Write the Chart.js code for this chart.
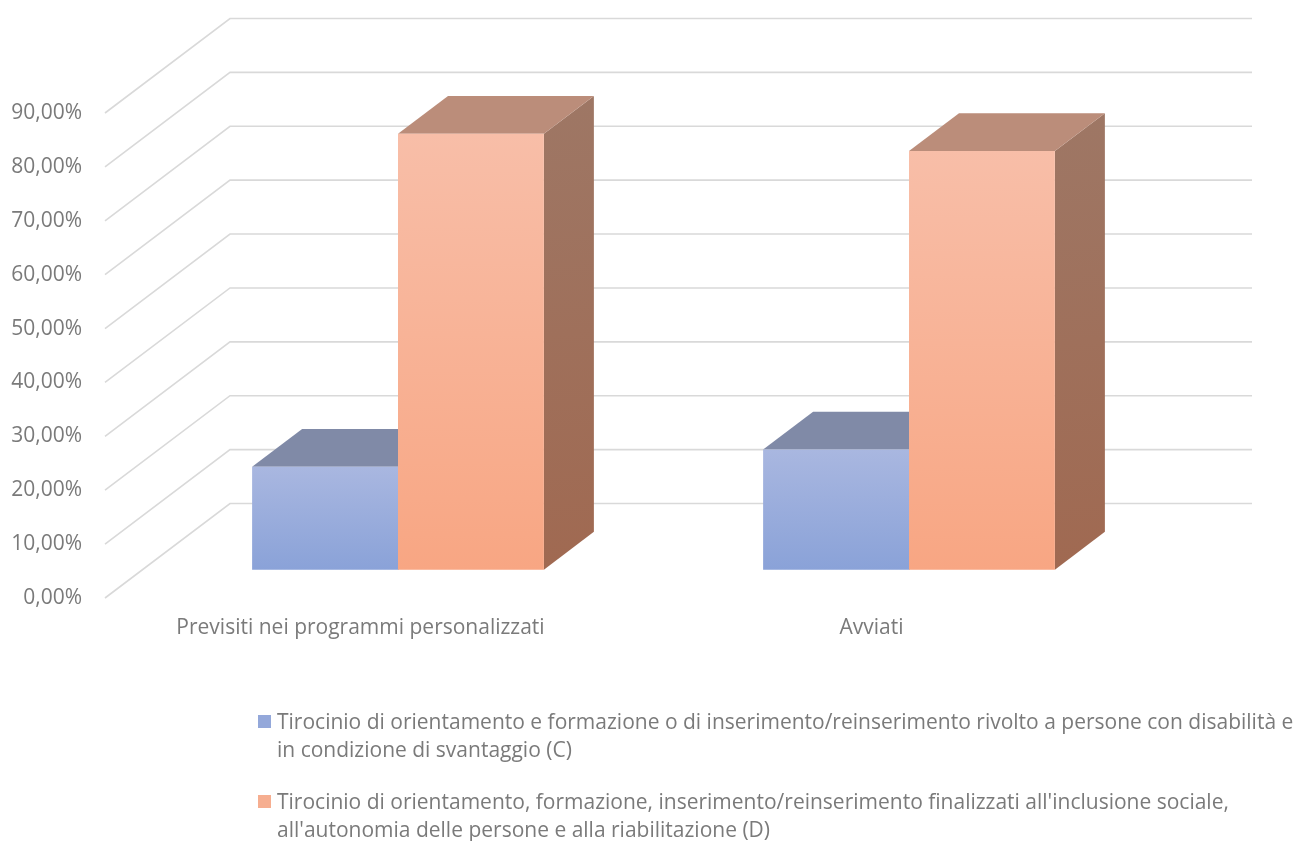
<!DOCTYPE html>
<html>
<head>
<meta charset="utf-8">
<script src="https://cdn.jsdelivr.net/npm/chart.js@4.4.1/dist/chart.umd.min.js"></script>
<style>
  html, body { margin: 0; padding: 0; background: #ffffff; }
  #wrap { width: 1296px; height: 841px; position: relative; }
</style>
</head>
<body>
<div id="wrap"><canvas id="c" width="1296" height="841"></canvas></div>
<script>
// ---------- DATA ----------
const categories = ['Previsiti nei programmi personalizzati', 'Avviati'];
const seriesNames = [
  'Tirocinio di orientamento e formazione o di inserimento/reinserimento rivolto a persone con disabilità e in condizione di svantaggio (C)',
  "Tirocinio di orientamento, formazione, inserimento/reinserimento finalizzati all'inclusione sociale, all'autonomia delle persone e alla riabilitazione (D)"
];
const legendLinesC = [
  'Tirocinio di orientamento e formazione o di inserimento/reinserimento rivolto a persone con disabilità e',
  'in condizione di svantaggio (C)'
];
const legendLinesD = [
  "Tirocinio di orientamento, formazione, inserimento/reinserimento finalizzati all'inclusione sociale,",
  "all'autonomia delle persone e alla riabilitazione (D)"
];
const valuesC = [19.1, 22.3];
const valuesD = [80.9, 77.7];
const yTickValues = [0, 10, 20, 30, 40, 50, 60, 70, 80, 90];

// ---------- STYLE ----------
const FONT = "'Open Sans', 'DejaVu Sans', sans-serif";
const FS = 21;
const TEXT = '#7a7a7a';
const GRID = '#d9d9d9';
const DX = 125, DY = -94.5;          // full depth of the 3D box
const BAR_FRONT = 0.3, BAR_DEPTH = 0.4;
const faceStyles = [
  { frontTop: '#a9b7e0', frontBottom: '#8aa2d8', top: '#808aa7', sideTop: '#6f7b9c', sideBottom: '#64739a', legend: '#94a8da' },
  { frontTop: '#f8bea8', frontBottom: '#f8a683', top: '#bb8d7a', sideTop: '#9e7765', sideBottom: '#a06951', legend: '#f6ae90' }
];

function frontGradient(ctx, idx) {
  const chart = ctx.chart;
  const st = faceStyles[idx];
  const ys = chart.scales && chart.scales.y;
  if (!ys || ctx.type !== 'data' || !chart.chartArea) return st.frontBottom;
  const top = ys.getPixelForValue(ctx.raw);
  const bot = ys.getPixelForValue(0);
  if (!isFinite(top) || !isFinite(bot) || top === bot) return st.frontBottom;
  const g = chart.ctx.createLinearGradient(0, top, 0, bot);
  g.addColorStop(0, st.frontTop);
  g.addColorStop(1, st.frontBottom);
  return g;
}

const threeD = {
  id: 'threeD',
  beforeDatasetsDraw(chart) {
    const { ctx, chartArea: ca, scales: { y } } = chart;
    ctx.save();
    ctx.strokeStyle = GRID;
    ctx.lineWidth = 1.6;
    yTickValues.forEach(v => {
      const yf = y.getPixelForValue(v);
      ctx.beginPath();
      ctx.moveTo(ca.left, yf);
      ctx.lineTo(ca.left + DX, yf + DY);
      ctx.lineTo(ca.right + DX, yf + DY);
      ctx.stroke();
    });
    ctx.restore();

    const ox = DX * BAR_FRONT, oy = DY * BAR_FRONT;
    const bx = DX * BAR_DEPTH, by = DY * BAR_DEPTH;
    const metas = chart.data.datasets.map((d, i) => chart.getDatasetMeta(i));
    const n = chart.data.labels.length;
    ctx.save();
    for (let k = 0; k < n; k++) {
      metas.forEach((meta, di) => {
        const el = meta.data[k];
        if (!el) return;
        const p = el.getProps(['x', 'y', 'base', 'width'], true);
        if (![p.x, p.y, p.base, p.width].every(isFinite)) return;
        const L = p.x - p.width / 2 + ox, R = p.x + p.width / 2 + ox;
        const T = p.y + oy, B = p.base + oy;
        const st = faceStyles[di];
        const sg = ctx.createLinearGradient(R, T + by, R + bx, B);
        sg.addColorStop(0, st.sideTop);
        sg.addColorStop(1, st.sideBottom);
        ctx.fillStyle = sg;
        ctx.beginPath();
        ctx.moveTo(R, T); ctx.lineTo(R + bx, T + by); ctx.lineTo(R + bx, B + by); ctx.lineTo(R, B);
        ctx.closePath(); ctx.fill();
        ctx.fillStyle = st.top;
        ctx.beginPath();
        ctx.moveTo(L, T); ctx.lineTo(R, T); ctx.lineTo(R + bx, T + by); ctx.lineTo(L + bx, T + by);
        ctx.closePath(); ctx.fill();
      });
    }
    ctx.restore();
    ctx.save();
    ctx.translate(ox, oy);
  },
  afterDatasetsDraw(chart) {
    chart.ctx.restore();
  },
  afterDraw(chart) {
    const { ctx } = chart;
    ctx.save();
    ctx.font = FS + 'px ' + FONT;
    ctx.textBaseline = 'alphabetic';
    ctx.textAlign = 'left';
    const items = [legendLinesC, legendLinesD];
    const baseY = [729, 809];
    items.forEach((lines, i) => {
      ctx.fillStyle = faceStyles[i].legend;
      ctx.fillRect(258, baseY[i] - 14, 13, 13);
      ctx.fillStyle = TEXT;
      lines.forEach((t, j) => {
        ctx.fillText(t, 277, baseY[i] + j * 28, 1018);
      });
    });
    ctx.restore();
  }
};

Chart.defaults.font.family = FONT;
Chart.defaults.color = TEXT;

new Chart(document.getElementById('c'), {
  type: 'bar',
  data: {
    labels: categories,
    datasets: [
      { label: seriesNames[0], data: valuesC, backgroundColor: c => frontGradient(c, 0), borderWidth: 0, clip: false,
        categoryPercentage: 0.571, barPercentage: 1.0 },
      { label: seriesNames[1], data: valuesD, backgroundColor: c => frontGradient(c, 1), borderWidth: 0, clip: false,
        categoryPercentage: 0.571, barPercentage: 1.0 }
    ]
  },
  options: {
    responsive: false,
    animation: false,
    devicePixelRatio: 1,
    layout: { padding: { left: 0, right: 169, top: 113, bottom: 0 } },
    plugins: { legend: { display: false }, tooltip: { enabled: false } },
    scales: {
      x: {
        grid: { display: false, drawTicks: false },
        border: { display: false },
        ticks: { color: TEXT, font: { size: FS, family: FONT }, padding: 17, maxRotation: 0, autoSkip: false },
        afterFit(s) { s.height = 243; }
      },
      y: {
        min: 0, max: 90,
        grid: { display: false, drawTicks: false },
        border: { display: false },
        ticks: {
          stepSize: 10, color: TEXT, font: { size: FS, family: FONT }, padding: 23,
          callback: v => v.toFixed(2).replace('.', ',') + '%'
        },
        afterFit(s) { s.width = 105; }
      }
    }
  },
  plugins: [threeD]
});
</script>
</body>
</html>
